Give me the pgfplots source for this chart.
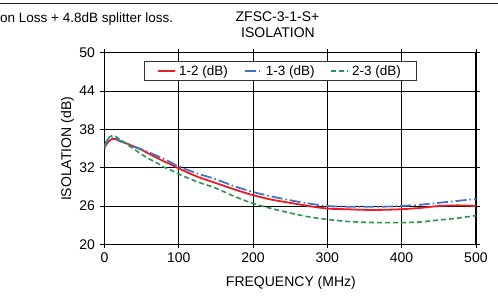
\documentclass[border=0pt]{standalone}
\usepackage{pgfplots}
\pgfplotsset{compat=1.18}
\usepackage{fontspec}
\setmainfont{Liberation Sans}
\definecolor{cred}{RGB}{237,28,36}
\definecolor{cblue}{RGB}{68,114,196}
\definecolor{cgreen}{RGB}{40,150,80}
\begin{document}
\begin{tikzpicture}[x=1pt,y=1pt]
\useasboundingbox (0,0) rectangle (498,299);
\draw[line width=1pt,black!85] (0,295) -- (498,295);
\node[anchor=west,font=\fontsize{13.5}{15}\selectfont,inner sep=0pt] at (0,279.5) {on Loss + 4.8dB splitter loss.};
\node[font=\fontsize{14}{16}\selectfont,inner sep=0pt] at (277.5,282) {ZFSC-3-1-S+};
\node[font=\fontsize{14}{16}\selectfont,inner sep=0pt] at (278,266.5) {ISOLATION};
\begin{axis}[
  at={(104.4pt,54.7pt)}, anchor=south west,
  width=371.5pt, height=191.4pt, scale only axis,
  xmin=0, xmax=500, ymin=20, ymax=50,
  xtick={0,100,...,500}, ytick={20,26,32,38,44,50},
  grid=major, grid style={black, line width=0.8pt},
  axis line style={black, line width=1pt},
  tick align=outside, major tick length=4pt,
  tick style={black, line width=0.8pt},
  tick label style={font=\fontsize{14}{16}\selectfont},
  yticklabel style={xshift=-2pt},
  xticklabel style={yshift=-1pt},
  /pgf/number format/assume math mode=true,
  xlabel={FREQUENCY (MHz)}, ylabel={ISOLATION (dB)},
  label style={font=\fontsize{14}{16}\selectfont},
  xlabel style={at={(axis description cs:0.502,-0.202)}, anchor=center},
  ylabel style={at={(axis description cs:-0.0996,0.498)}, anchor=center},
  legend columns=3,
  legend style={at={(axis description cs:0.1066,0.958)}, anchor=north west,
    draw=black!80, fill=white, line width=0.8pt, font=\fontsize{13.5}{15}\selectfont,
    inner xsep=13pt, inner ysep=2pt,
    /tikz/every odd column/.append style={column sep=1pt},
    /tikz/every even column/.append style={column sep=14pt}},
  legend image code/.code={\draw[#1] (0pt,0pt) -- (17pt,0pt);},
]
\addplot[cred, line width=1.8pt, smooth] coordinates {
(0,35.2) (5,36.0) (10,36.5) (15,36.5) (20,36.2) (30,35.8) (40,35.3) (50,34.8)
(60,34.2) (70,33.6) (80,33.0) (90,32.5) (100,31.9) (125,30.6) (150,29.6)
(175,28.6) (200,27.7) (225,27.0) (250,26.5) (275,26.0) (300,25.6) (325,25.5)
(350,25.4) (375,25.4) (400,25.5) (425,25.7) (450,26.0) (475,26.1) (500,26.0)};
\addlegendentry{1-2 (dB)}
\addplot[cblue, line width=1.8pt, smooth, dash pattern=on 11pt off 3pt on 1.5pt off 3pt] coordinates {
(0,35.0) (4,36.3) (8,36.7) (12,36.7) (20,36.3) (30,35.8) (40,35.3) (50,34.9)
(60,34.4) (70,33.9) (80,33.4) (90,32.8) (100,32.2) (125,31.1) (150,30.2)
(175,29.1) (200,28.2) (225,27.5) (250,26.9) (275,26.4) (300,26.0) (325,25.9)
(350,25.9) (375,25.9) (400,26.0) (425,26.2) (450,26.5) (475,26.8) (500,27.1)};
\addlegendentry{1-3 (dB)}
\addplot[cgreen, line width=1.6pt, smooth, dash pattern=on 5pt off 3pt] coordinates {
(0,35.5) (5,36.6) (10,37.0) (15,36.9) (20,36.5) (30,35.7) (40,34.9) (50,34.1)
(60,33.4) (70,32.8) (80,32.1) (90,31.6) (100,31.0) (125,29.8) (150,28.8)
(175,27.5) (200,26.4) (225,25.6) (250,24.9) (275,24.3) (300,23.9) (325,23.6)
(350,23.45) (375,23.4) (400,23.4) (425,23.5) (450,23.8) (475,24.1) (500,24.5)};
\addlegendentry{2-3 (dB)}
\end{axis}
\end{tikzpicture}
\end{document}
